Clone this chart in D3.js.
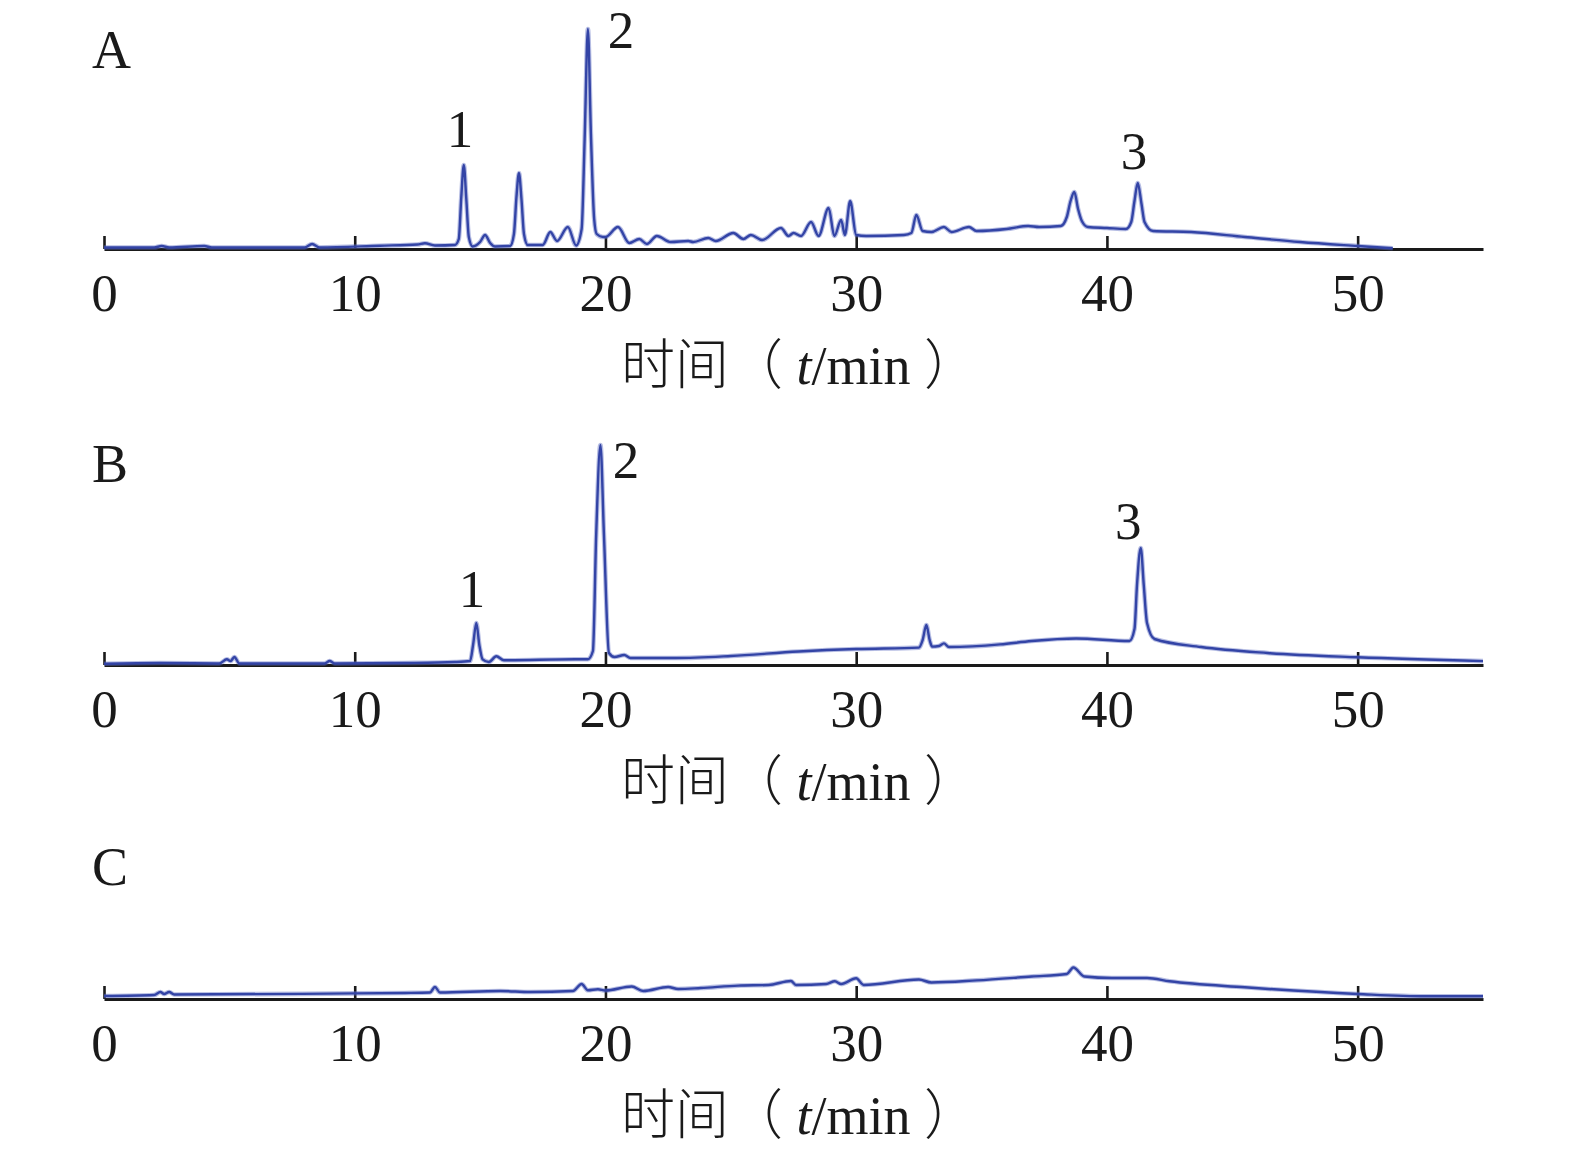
<!DOCTYPE html>
<html><head><meta charset="utf-8">
<script src="https://cdn.jsdelivr.net/npm/d3@7/dist/d3.min.js"></script>
<style>
html,body{margin:0;padding:0;background:#fff;}
text{font-family:"Liberation Serif","Times New Roman","Noto Sans CJK SC",serif;fill:#1a1a1a;}
</style></head>
<body><svg id="chart" width="1575" height="1155"></svg>
<script>
// time ticks (min)
const tickValues = [0, 10, 20, 30, 40, 50];
const panelNames = ["A", "B", "C"];
const axisTitle = "时间";

// chromatogram A: [t (min), signal (mAU)]
const traceA = [
 [0,1.5],[2.0,1.5],[2.3,3],[2.6,1.5],[4.0,3],[4.3,1.5],[8.0,1.5],[8.3,5],[8.6,1.5],[11,3.3],[12.5,4.5],[12.8,5.7],[13.2,3.5],
 [14.0,4],[14.15,10],[14.25,52],[14.35,84],[14.45,50],[14.55,12],[14.7,2.5],[15.0,7],[15.2,14],[15.4,6],[15.6,2.5],
 [16.2,3],[16.35,15],[16.45,52],[16.55,76],[16.65,50],[16.75,15],[16.9,4],[17.5,4],[17.8,17],[18.07,8],[18.5,22],[18.83,3.5],
 [19.05,20],[19.17,110],[19.3,220],[19.42,115],[19.55,30],[19.65,15],[19.9,12],[20.0,12],[20.5,22],[20.95,6],[21.35,10],[21.65,5],
 [22.05,13],[22.6,7],[23.3,8],[23.5,7],[24.1,11],[24.4,8],[25.1,16],[25.5,10],[25.8,14],[26.25,9],[27.0,21],[27.3,13],[27.5,16],
 [27.8,13],[28.2,27],[28.5,13],[28.9,41],[29.13,13],[29.4,29],[29.55,14],[29.76,48],[30.0,14],[30.4,13],[31.9,14],[32.2,16],
 [32.4,34],[32.65,18],[33.0,17],[33.5,22],[33.8,17],[34.5,22],[34.8,18],[36.0,20],[36.86,23],[37.3,22],[38.16,23],[38.4,32],
 [38.55,48],[38.7,57],[38.85,40],[39.0,28],[39.24,22],[40.0,21],[40.76,20],[40.97,27],[41.1,48],[41.23,66],[41.38,45],[41.5,27],
 [41.84,18],[43.36,17],[45.5,12],[47.7,7],[50,3],[51.4,0.7]
];
// chromatogram B
const traceB = [
 [0,1.3],[2.25,2],[4.6,1.5],[4.9,5.7],[5.05,4],[5.2,8],[5.4,1.5],[8.8,1.5],[9.0,4],[9.2,1.5],[12,2],[14.0,3],[14.6,4],
 [14.72,20],[14.85,42],[14.97,20],[15.1,5.7],[15.35,3],[15.65,8.7],[15.95,4.7],[18.8,5.7],[19.3,5.7],[19.5,14],[19.63,130],
 [19.8,220],[19.94,130],[20.14,12],[20.36,8],[20.75,10],[21.0,7],[22.8,7],[25,9],[27.7,13.5],[30,16],[32.5,17.4],[32.65,25],
 [32.8,40],[32.93,25],[33.03,18.4],[33.3,19],[33.5,21.6],[33.7,18],[35.74,20.6],[37,24],[38.77,26.5],[40.9,24],[41.1,36],
 [41.2,80],[41.35,117],[41.47,80],[41.6,42],[41.9,26],[43.76,18],[46.4,12],[50,7.7],[55,3.9]
];
// chromatogram C
const traceC = [
 [0,3],[2.0,4],[2.25,7],[2.4,5],[2.6,7],[2.8,4.5],[10,5.6],[12,6],[13.0,6.5],[13.2,12],[13.4,6.5],[15.8,8],[17,7],[18.7,8],
 [19.05,15],[19.3,8.7],[19.7,9.7],[20,8.5],[21.05,12.5],[21.5,8],[22.5,12],[22.9,10],[23.8,11],[25.3,13.4],[26.5,14],[27.4,18],
 [27.6,14],[28.8,15],[29.15,17.7],[29.4,15],[30,20.7],[30.3,14],[32.5,19.5],[33,16.5],[34.8,18.6],[37,22.5],[38.4,25],
 [38.66,31.5],[39.1,22.5],[40.2,21],[41.6,21],[42.5,17.7],[45.5,11.7],[50,5],[52.7,2.7],[55,2.7]
];
// peak labels: [label, t, signal level of label baseline]
const peaksA = [["1",14.2,102],["2",20.62,201],["3",41.08,80]];
const peaksB = [["1",14.68,58],["2",20.82,187],["3",40.85,126]];
const peaksC = [];

const svg = d3.select("#chart");
const x = d3.scaleLinear().domain([0, 55]).range([104, 1483]);
const panels = [
  {name: panelNames[0], data: traceA, peaks: peaksA, axisY: 249, letterY: 68},
  {name: panelNames[1], data: traceB, peaks: peaksB, axisY: 665, letterY: 482},
  {name: panelNames[2], data: traceC, peaks: peaksC, axisY: 999, letterY: 885}
];

panels.forEach(p => {
  const y = d3.scaleLinear().domain([0, 220]).range([p.axisY, p.axisY - 220]);
  const g = svg.append("g");

  // axis
  const ax = g.append("g").attr("transform", `translate(0,${p.axisY})`)
    .call(d3.axisBottom(x).tickValues(tickValues).tickSizeInner(-13).tickSizeOuter(0).tickPadding(24).tickFormat(d3.format("d")));
  ax.select(".domain").attr("stroke", "#1a1a1a").attr("stroke-width", 2.8);
  ax.selectAll(".tick line").attr("stroke", "#1a1a1a").attr("stroke-width", 2.6);
  ax.selectAll(".tick text").attr("font-size", 53).attr("fill", "#1a1a1a")
    .style("font-family", '"Liberation Serif","Times New Roman",serif');

  // trace
  const line = d3.line().x(d => x(d[0])).y(d => y(d[1])).curve(d3.curveMonotoneX);
  g.append("path").datum(p.data).attr("d", line)
    .attr("fill", "none").attr("stroke", "#5d6cc0").attr("stroke-width", 4.6).attr("stroke-opacity", 0.45)
    .attr("stroke-linejoin", "round");
  g.append("path").datum(p.data).attr("d", line)
    .attr("fill", "none").attr("stroke", "#3344a6").attr("stroke-width", 2.4)
    .attr("stroke-linejoin", "round");

  // panel letter
  g.append("text").attr("x", 92).attr("y", p.letterY).attr("font-size", 54).text(p.name);

  // peak labels
  g.selectAll("text.pk").data(p.peaks).enter().append("text").attr("class", "pk")
    .attr("x", d => x(d[1])).attr("y", d => y(d[2]))
    .attr("text-anchor", "middle").attr("font-size", 53).text(d => d[0]);

  // axis title
  const t = g.append("text").attr("x", 621).attr("y", p.axisY + 135)
    .attr("text-anchor", "start").attr("font-size", 54);
  t.append("tspan").style("font-family", '"Noto Sans CJK SC",sans-serif').attr("font-weight", 300).text(axisTitle + "（");
  t.append("tspan").text(" ");
  t.append("tspan").attr("font-style", "italic").text("t");
  t.append("tspan").text("/min ");
  t.append("tspan").style("font-family", '"Noto Sans CJK SC",sans-serif').attr("font-weight", 300).text("）");
});
</script></body></html>
